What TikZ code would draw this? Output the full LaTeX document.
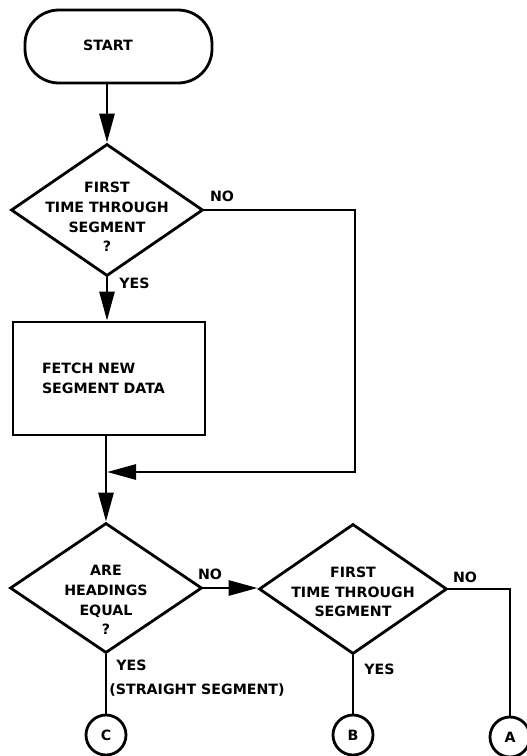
\documentclass[tikz,border=0pt]{standalone}
\usepackage{fontspec}
\newfontfamily\labfont{DejaVu Sans Bold}
\usetikzlibrary{shapes.geometric,arrows.meta}
\begin{document}
\begin{tikzpicture}[x=1pt,y=-1pt,
  line width=2.8pt,
  every node/.style={font=\labfont\fontsize{14.2}{19.8}\selectfont},
  dia/.style={draw,diamond,inner sep=0pt,minimum width=192pt,minimum height=132pt,aspect=1.45},
  txt/.style={align=center,inner sep=0pt},
  lbl/.style={inner sep=0pt},
  term/.style={draw,rounded corners=34pt,minimum width=187pt,minimum height=73pt},
  procbox/.style={draw,minimum width=192pt,minimum height=113pt,text width=134pt,inner xsep=29pt,align=left},
  conn/.style={draw,circle,minimum size=40pt,inner sep=0pt},
  arr/.style={-{Triangle[length=29pt,width=15pt]}},
  flow/.style={line join=miter}
]
\useasboundingbox (0,0) rectangle (527,756);

% nodes
\node[term] (start) at (118.5,46.5) {};
\node[lbl] (starttxt) at (108,45) {START};

\node[dia] (d1) at (107,210) {};
\node[txt] (d1txt) at (107,217) {FIRST\\TIME THROUGH\\SEGMENT\\?};

\node[procbox] (box) at (109,378.5) {FETCH NEW\\SEGMENT DATA};

\coordinate (j) at (107,472);
\coordinate (c1) at (355,472);

\node[dia,minimum height=130pt] (d2) at (106,588) {};
\node[txt] (d2txt) at (106,600) {ARE\\HEADINGS\\EQUAL\\?};

\node[dia,minimum width=188pt,minimum height=130pt] (d3) at (353,589) {};
\node[txt] (d3txt) at (353,592) {FIRST\\TIME THROUGH\\SEGMENT};

\node[conn] (C) at (106,735) {C};
\node[conn] (B) at (353,735) {B};
\node[conn] (A) at (510,737) {A};

% labels
\node[lbl] (no1) at (222,196) {NO};
\node[lbl,anchor=west] (yes1) at (118,283) {YES};
\node[lbl] (no2) at (210,574) {NO};
\node[lbl,anchor=west] (yes2) at (115,665) {YES};
\node[lbl,anchor=west] (straight) at (108,690) {(STRAIGHT SEGMENT)};
\node[lbl] (no3) at (465,577) {NO};
\node[lbl,anchor=west] (yes3) at (363,669) {YES};

% connectors
\draw[arr] (start.south -| d1.north) -- (d1.north);
\draw[arr] (d1.south) -- (box.north -| d1.south);
\draw[arr] (box.south -| d2.north) -- (d2.north);
\draw[arr,flow] (d1.east) -| (c1) -- (j);
\draw[arr] (d2.east) -- (d3.west |- d2.east);
\draw (d2.south) -- (C.north);
\draw (d3.south) -- (B.north);
\draw[flow] (d3.east) -| (A.north);
\end{tikzpicture}
\end{document}
